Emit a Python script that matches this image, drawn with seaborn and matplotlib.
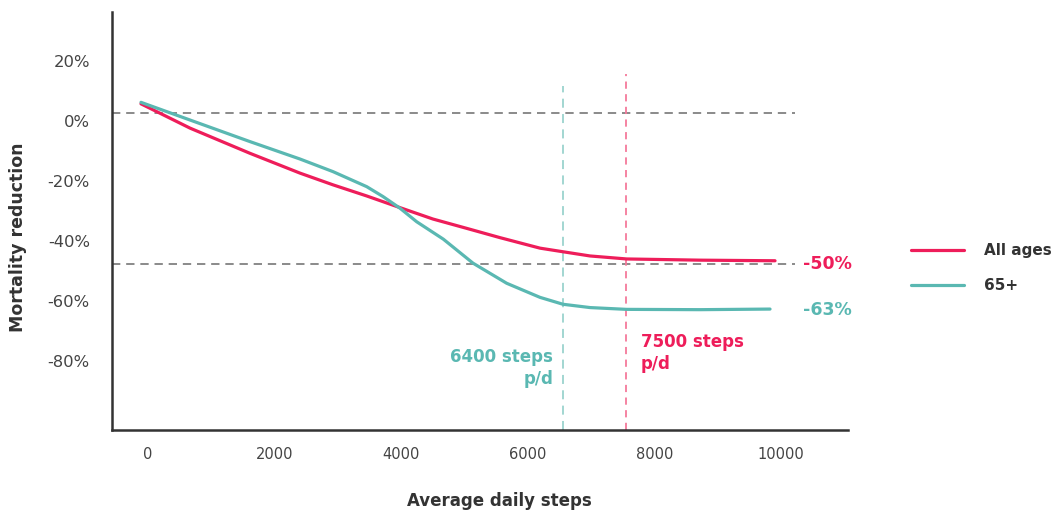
import matplotlib
matplotlib.use("Agg")
import matplotlib.pyplot as plt
import seaborn as sns
import pandas as pd

# ---- data ----
all_steps = [-111, 664, 1612, 2402, 2923, 3455, 3982, 4503, 5035, 5562, 6194, 6557,
             6984, 7563, 8722, 9907]
all_vals = [5.7, -2.4, -10.8, -17.4, -21.3, -25.0, -28.9, -32.7, -35.8, -38.9, -42.4,
            -43.6, -45.0, -46.0, -46.4, -46.6]

old_steps = [-111, 664, 1612, 2402, 2923, 3455, 3713, 3982, 4245, 4666, 5135, 5667,
             6194, 6557, 6984, 7563, 8722, 9828]
old_vals = [6.2, 0.3, -6.9, -12.7, -16.9, -21.9, -25.2, -29.1, -33.6, -39.4, -47.4,
            -54.1, -58.8, -61.1, -62.2, -62.8, -62.9, -62.7]

series_names = ["All ages", "65+"]
end_labels = ["-50%", "-63%"]
threshold_labels = ["6400 steps\np/d", "7500 steps\np/d"]
threshold_x = [6557, 7552]
ref_levels = [2.8, -47.6]

x_ticks = [0, 2000, 4000, 6000, 8000, 10000]
y_ticks = [20, 0, -20, -40, -60, -80]
y_tick_labels = ["20%", "0%", "-20%", "-40%", "-60%", "-80%"]

PINK = "#EE1D5A"
TEAL = "#5AB8B2"
PINK_L = "#F47A9B"
TEAL_L = "#9BD3CE"
GRAY = "#777777"
DARK = "#333333"

df = pd.concat([
    pd.DataFrame({"steps": all_steps, "val": all_vals, "group": series_names[0]}),
    pd.DataFrame({"steps": old_steps, "val": old_vals, "group": series_names[1]}),
])

sns.set_theme(style="white")
plt.rcParams["font.family"] = ["DejaVu Sans"]

fig = plt.figure(figsize=(10.64, 5.13), dpi=100)
ax = fig.add_axes([112 / 1064, 1 - 430 / 513, 736 / 1064, 418 / 513])

# reference lines
for lv in ref_levels:
    ax.plot([-569, 10220], [lv, lv], color=GRAY, lw=1.2, ls=(0, (5, 3.5)), zorder=1)
ax.plot([threshold_x[0]] * 2, [-103, 11.7], color=TEAL_L, lw=1.3, ls=(0, (5, 3.5)), zorder=1)
ax.plot([threshold_x[1]] * 2, [-103, 15.7], color=PINK_L, lw=1.3, ls=(0, (4, 3)), zorder=1)

sns.lineplot(data=df, x="steps", y="val", hue="group",
             palette={series_names[0]: PINK, series_names[1]: TEAL},
             linewidth=2.3, ax=ax, sort=False, zorder=3)
for ln in ax.lines:
    ln.set_solid_joinstyle("round")

ax.set_xlim(-569, 11060)
ax.set_ylim(-103, 36.3)
ax.set_xticks(x_ticks)
ax.set_xticklabels([str(t) for t in x_ticks])
ax.set_yticks(y_ticks)
ax.set_yticklabels(y_tick_labels)
ax.tick_params(axis="both", length=0, colors="#444444")
ax.tick_params(axis="x", pad=12.5, labelsize=10.5)
ax.tick_params(axis="y", pad=16, labelsize=11.8)

for s in ["top", "right"]:
    ax.spines[s].set_visible(False)
for s in ["left", "bottom"]:
    ax.spines[s].set_color(DARK)
    ax.spines[s].set_linewidth(1.8)

ax.set_xlabel("Average daily steps", fontsize=12, fontweight="bold", color=DARK)
ax.set_ylabel("Mortality reduction", fontsize=12.5, fontweight="bold", color=DARK)
ax.xaxis.set_label_coords(0.527, -0.148)
ax.yaxis.set_label_coords(-0.1155, 0.46)

# annotations
ax.text(6399, -75.7, threshold_labels[0], ha="right", va="top", multialignment="right",
        color=TEAL, fontsize=12, fontweight="bold", linespacing=1.3)
ax.text(7789, -70.7, threshold_labels[1], ha="left", va="top", multialignment="left",
        color=PINK, fontsize=12, fontweight="bold", linespacing=1.3)
ax.text(10349, -47.7, end_labels[0], ha="left", va="center", color=PINK,
        fontsize=12.5, fontweight="bold", clip_on=False)
ax.text(10349, -63.0, end_labels[1], ha="left", va="center", color=TEAL,
        fontsize=12.5, fontweight="bold", clip_on=False)

sns.move_legend(ax, loc="center left", bbox_to_anchor=(911 / 1064, 1 - 268 / 513),
                bbox_transform=fig.transFigure, frameon=False, title=None,
                handlelength=3.5, handletextpad=1.3, labelspacing=1.3,
                borderpad=0, borderaxespad=0, fontsize=11)
leg = ax.get_legend()
for t in leg.get_texts():
    t.set_fontweight("bold")
    t.set_color(DARK)
for h in leg.get_lines():
    h.set_linewidth(2.3)

fig.savefig("out.png", dpi=100)
